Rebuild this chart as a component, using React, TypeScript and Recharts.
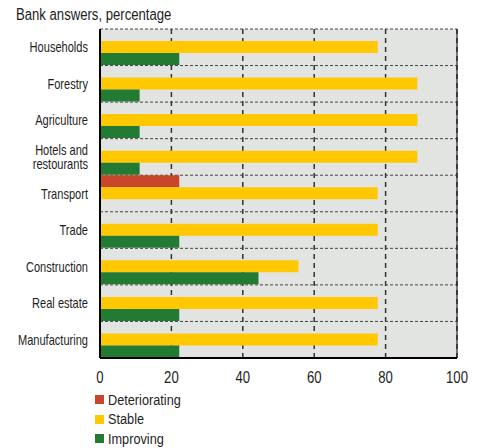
import React from 'react';
import {
  BarChart,
  Bar,
  XAxis,
  YAxis,
  CartesianGrid,
  ReferenceLine,
  Legend,
} from 'recharts';

const categories = [
  'Households',
  'Forestry',
  'Agriculture',
  'Hotels and\nrestourants',
  'Transport',
  'Trade',
  'Construction',
  'Real estate',
  'Manufacturing',
];
const deteriorating = [0, 0, 0, 0, 22.2, 0, 0, 0, 0];
const stable = [77.8, 88.9, 88.9, 88.9, 77.8, 77.8, 55.6, 77.8, 77.8];
const improving = [22.2, 11.1, 11.1, 11.1, 0, 22.2, 44.4, 22.2, 22.2];
const xTicks = [0, 20, 40, 60, 80, 100];
const seriesOrder = ['Deteriorating', 'Stable', 'Improving'];

// no narrow font installed, so squeeze Liberation Sans horizontally
const FONT = "'Liberation Sans', Arial, sans-serif";
const SQUEEZE = 0.82;
const TEXT = '#1e1e1e';

const data = categories.map((name, i) => ({
  name,
  deteriorating: deteriorating[i],
  stable: stable[i],
  improving: improving[i],
}));

const CategoryTick = (props: any) => {
  const { x, y, payload } = props;
  const lines = String(payload.value).split('\n');
  const lh = 14.5;
  const start = -((lines.length - 1) * lh) / 2;
  return (
    <g transform={`translate(${x},${y}) scale(0.79,1)`}>
      <text x={0} y={0} textAnchor="end" fill={TEXT} fontSize={14} fontFamily={FONT}>
        {lines.map((l, i) => (
          <tspan key={i} x={0} dy={i === 0 ? start + 5 : lh}>
            {l}
          </tspan>
        ))}
      </text>
    </g>
  );
};

const ValueTick = (props: any) => {
  const { x, y, payload } = props;
  return (
    <g transform={`translate(${x},${y}) scale(${SQUEEZE},1)`}>
      <text x={0} y={0} dy="0.71em" textAnchor="middle" fill={TEXT} fontSize={16} fontFamily={FONT}>
        {payload.value}
      </text>
    </g>
  );
};

const LegendContent = (props: any) => {
  const items = [...props.payload].sort(
    (a: any, b: any) => seriesOrder.indexOf(a.value) - seriesOrder.indexOf(b.value)
  );
  return (
    <div style={{ fontFamily: FONT, fontSize: 15.5, color: TEXT }}>
      {items.map((p: any) => (
        <div key={p.value} style={{ display: 'flex', alignItems: 'center', height: 19.5 }}>
          <span style={{ width: 9, height: 9, background: p.color, marginRight: 4, display: 'inline-block' }} />
          <span style={{ display: 'inline-block', transform: `scaleX(${SQUEEZE})`, transformOrigin: 'left center', whiteSpace: 'nowrap' }}>
            {p.value}
          </span>
        </div>
      ))}
    </div>
  );
};

export default function App() {
  return (
    <div style={{ position: 'absolute', left: 0, top: 0, width: 477, height: 448, background: '#fff' }}>
      <div
        style={{
          position: 'absolute',
          left: 16,
          top: 6,
          fontFamily: FONT,
          fontSize: 16,
          color: TEXT,
          whiteSpace: 'nowrap',
          transform: `scaleX(${SQUEEZE})`,
          transformOrigin: 'left top',
        }}
      >
        Bank answers, percentage
      </div>
      <BarChart
        width={477}
        height={448}
        data={data}
        layout="vertical"
        margin={{ top: 29, right: 20, left: 0, bottom: 60 }}
        barCategoryGap={0}
        barGap={0}
      >
        <CartesianGrid
          fill="#e2e4e1"
          horizontal={false}
          stroke="#333"
          strokeWidth={1.5}
          strokeDasharray="5 4"
        />
        <CartesianGrid
          vertical={false}
          stroke="#444"
          strokeWidth={1}
          strokeDasharray="3 2"
          horizontalCoordinatesGenerator={({ offset }: any) =>
            categories.map((_, i) => offset.top + (i * offset.height) / categories.length)
          }
        />
        <ReferenceLine x={100} stroke="#222" strokeWidth={1.2} />
        <XAxis
          type="number"
          domain={[0, 100]}
          ticks={xTicks}
          interval={0}
          height={30}
          tickLine={false}
          tickSize={0}
          tickMargin={14}
          axisLine={{ stroke: '#000', strokeWidth: 2 }}
          tick={<ValueTick />}
        />
        <YAxis
          type="category"
          dataKey="name"
          width={100}
          interval={0}
          tickLine={false}
          tickSize={0}
          tickMargin={12}
          axisLine={{ stroke: '#000', strokeWidth: 2 }}
          tick={<CategoryTick />}
        />
        <Legend
          layout="horizontal"
          verticalAlign="middle"
          align="center"
          wrapperStyle={{ left: 95, top: 390, width: 160, height: 60 }}
          content={<LegendContent />}
        />
        <Bar dataKey="deteriorating" name="Deteriorating" fill="#c8472a" isAnimationActive={false} />
        <Bar dataKey="stable" name="Stable" fill="#ffc800" isAnimationActive={false} />
        <Bar dataKey="improving" name="Improving" fill="#237a33" isAnimationActive={false} />
      </BarChart>
    </div>
  );
}
